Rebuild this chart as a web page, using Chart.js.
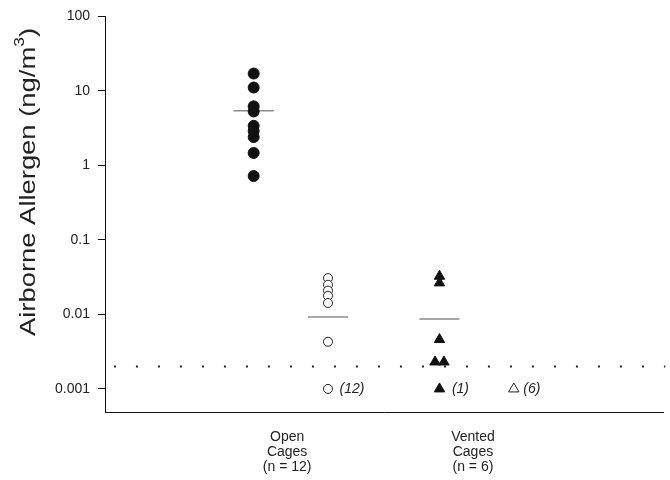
<!DOCTYPE html>
<html>
<head>
<meta charset="utf-8">
<script src="https://cdn.jsdelivr.net/npm/chart.js@4"></script>
<style>
  html, body { margin: 0; padding: 0; background: #fff; }
  #wrap { width: 670px; height: 480px; }
</style>
</head>
<body>
<div id="wrap"><canvas id="allergenChart"></canvas></div>
<script>
// group labels under the x axis and their x positions
const groupLabels = [['Open', 'Cages', '(n = 12)'], ['Vented', 'Cages', '(n = 6)']];
const groupLabelX = [2.45, 4.95];
const yTicks = [0.001, 0.01, 0.1, 1, 10, 100];

// measured values (ng/m3)
const openFilledX = 2;
const openFilled = [17.1, 11.1, 6.2, 5.3, 3.4, 2.9, 2.4, 1.47, 0.72];
const openHollowX = 3;
const openHollow = [0.0307, 0.025, 0.0209, 0.0178, 0.0142, 0.0043, 0.001];
const ventFilledX = [4.5, 4.5, 4.5, 4.44, 4.56, 4.5];
const ventFilled = [0.0325, 0.0265, 0.0046, 0.0023, 0.0023, 0.001];
const ventHollowX = 5.5;
const ventHollow = [0.001];

// group means
const meanX = [2, 3, 4.5];
const meanY = [5.4, 0.0092, 0.0087];
const meanHalfWidth = 0.27;

// detection limit and "below limit" counts
const detectionLimit = 0.002;
const countLabels = ['(12)', '(1)', '(6)'];
const countX = [3.156, 4.667, 5.627];
const countY = [0.001, 0.001, 0.001];

const X_MAX = 7.507;

Chart.defaults.font.family = '"Liberation Sans", Arial, sans-serif';
Chart.defaults.color = '#222';

const ctx = document.getElementById('allergenChart').getContext('2d');

const meanSets = meanX.map((cx, i) => ({
  type: 'line',
  data: [{ x: cx - meanHalfWidth, y: meanY[i] }, { x: cx + meanHalfWidth, y: meanY[i] }],
  borderColor: '#8a8a8a',
  borderWidth: 1.5,
  pointRadius: 0,
  showLine: true
}));

const countText = {
  id: 'countText',
  afterDatasetsDraw(chart) {
    const c = chart.ctx;
    const xs = chart.scales.x, ys = chart.scales.y;
    c.save();
    c.font = 'italic 14px "Liberation Sans", Arial, sans-serif';
    c.fillStyle = '#222';
    c.textAlign = 'left';
    c.textBaseline = 'middle';
    countLabels.forEach((t, i) => {
      c.fillText(t, xs.getPixelForValue(countX[i]), ys.getPixelForValue(countY[i]));
    });
    c.restore();
  }
};

const yTitle = {
  id: 'yTitle',
  afterDraw(chart) {
    const c = chart.ctx;
    const main = 'Airborne Allergen (ng/m';
    c.save();
    c.translate(29, 182);
    c.rotate(-Math.PI / 2);
    c.fillStyle = '#222';
    c.textBaseline = 'middle';
    c.textAlign = 'left';
    c.font = '22px "Liberation Sans", Arial, sans-serif';
    const w1 = c.measureText(main).width;
    const w3 = c.measureText(')').width;
    c.font = '14px "Liberation Sans", Arial, sans-serif';
    const w2 = c.measureText('3').width;
    const total = w1 + w2 + w3;
    c.scale(308 / total, 1);
    let x = -total / 2;
    c.font = '22px "Liberation Sans", Arial, sans-serif';
    c.fillText(main, x, 0);
    x += w1;
    c.font = '14px "Liberation Sans", Arial, sans-serif';
    c.fillText('3', x, -9);
    x += w2;
    c.font = '22px "Liberation Sans", Arial, sans-serif';
    c.fillText(')', x, 0);
    c.restore();
  }
};

new Chart(ctx, {
  type: 'scatter',
  data: {
    datasets: [
      {
        data: openFilled.map(v => ({ x: openFilledX, y: v })),
        pointStyle: 'circle',
        pointRadius: 5.5,
        backgroundColor: '#111',
        borderColor: '#111',
        borderWidth: 1
      },
      {
        data: openHollow.map(v => ({ x: openHollowX, y: v })),
        pointStyle: 'circle',
        pointRadius: 4.5,
        backgroundColor: '#fff',
        borderColor: '#222',
        borderWidth: 1
      },
      {
        data: ventFilled.map((v, i) => ({ x: ventFilledX[i], y: v })),
        pointStyle: 'triangle',
        pointRadius: 6,
        backgroundColor: '#111',
        borderColor: '#111',
        borderWidth: 1
      },
      {
        data: ventHollow.map(v => ({ x: ventHollowX, y: v })),
        pointStyle: 'triangle',
        pointRadius: 6,
        backgroundColor: '#fff',
        borderColor: '#222',
        borderWidth: 1
      },
      ...meanSets,
      {
        type: 'line',
        data: [{ x: 0.12, y: detectionLimit }, { x: X_MAX + 0.03, y: detectionLimit }],
        borderColor: '#222',
        borderWidth: 2,
        borderDash: [2, 20],
        pointRadius: 0,
        showLine: true,
        clip: false
      }
    ]
  },
  options: {
    responsive: true,
    maintainAspectRatio: false,
    animation: false,
    layout: { padding: { top: 16, right: 2, left: 0, bottom: 0 } },
    plugins: {
      legend: { display: false },
      tooltip: { enabled: false }
    },
    scales: {
      x: {
        type: 'linear',
        min: 0,
        max: X_MAX,
        afterFit(scale) { scale.height = 68; },
        afterBuildTicks(scale) { scale.ticks = groupLabelX.map(v => ({ value: v })); },
        grid: { display: false, drawTicks: false },
        border: { display: true, color: '#111', width: 1 },
        ticks: {
          autoSkip: false,
          maxRotation: 0,
          padding: 17,
          font: { size: 14, lineHeight: 1.1 },
          callback: (v, i) => groupLabels[i]
        }
      },
      y: {
        type: 'logarithmic',
        min: 0.00049,
        max: 100,
        afterFit(scale) { scale.width = 105; },
        afterBuildTicks(scale) { scale.ticks = yTicks.map(v => ({ value: v, major: true })); },
        grid: { drawOnChartArea: false, tickLength: 7, color: '#111' },
        border: { display: true, color: '#111', width: 1 },
        ticks: {
          padding: 8,
          font: { size: 14 },
          callback: v => String(v)
        }
      }
    }
  },
  plugins: [countText, yTitle]
});
</script>
</body>
</html>
